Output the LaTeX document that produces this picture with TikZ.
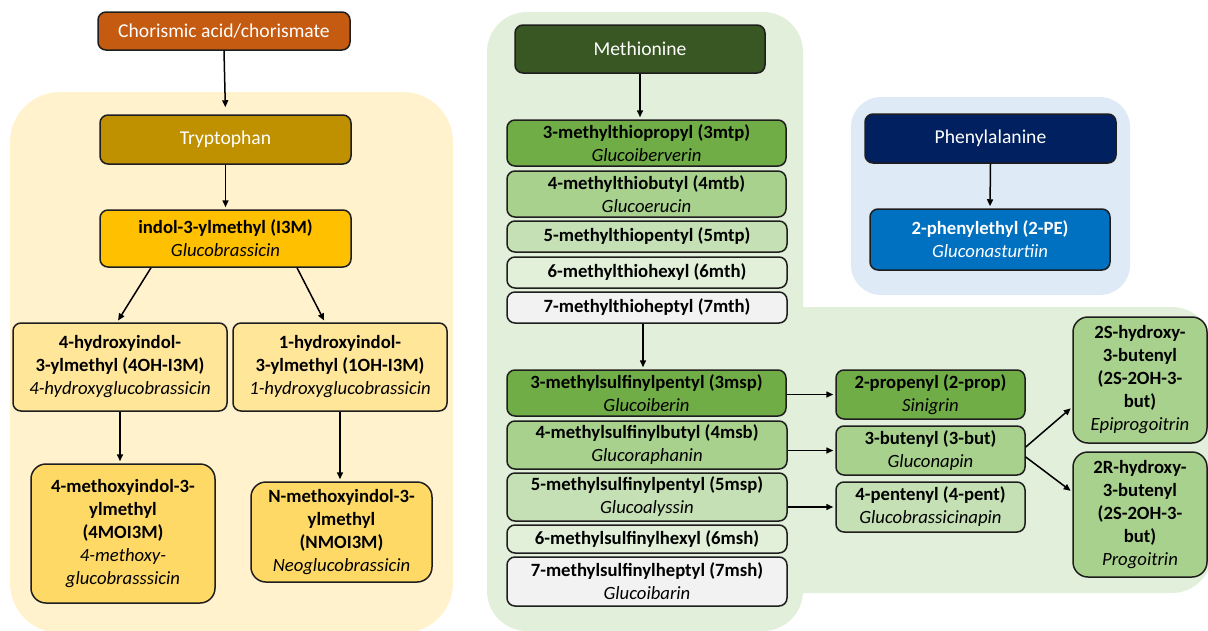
\documentclass[tikz,border=0pt]{standalone}
\usepackage{fontspec}
\setmainfont{Carlito}
\usetikzlibrary{arrows.meta}
\definecolor{cchor}{HTML}{C55A11}
\definecolor{ctrp}{HTML}{BF9000}
\definecolor{ci3m}{HTML}{FFC000}
\definecolor{coh}{HTML}{FFE699}
\definecolor{cmoi}{HTML}{FFD966}
\definecolor{cmet}{HTML}{385723}
\definecolor{gA}{HTML}{70AD47}
\definecolor{gB}{HTML}{A9D18E}
\definecolor{gC}{HTML}{C5E0B4}
\definecolor{gD}{HTML}{E2F0D9}
\definecolor{gE}{HTML}{F2F2F2}
\definecolor{cphe}{HTML}{002060}
\definecolor{cpe}{HTML}{0070C0}
\definecolor{ybg}{HTML}{FFF2CC}
\definecolor{gbg}{HTML}{E2EFDA}
\definecolor{bbg}{HTML}{DEEBF7}
\definecolor{edge}{HTML}{1E1E1E}
\newcommand\bodyfs{\fontsize{18.7}{23}\selectfont}
\newcommand\headfs{\fontsize{19.6}{23}\selectfont}
\tikzset{
  box/.style={draw=edge, line width=1.5pt, rounded corners=8pt, align=center,
    inner sep=1pt, font=\bodyfs},
  bigbox/.style={box, rounded corners=15pt},
  head/.style={box, font=\headfs, text=white},
  arr/.style={-{Triangle[length=7pt,width=6pt]}, line width=1.5pt, shorten >=2pt},
}
\newcommand\bx[6]{\node[#1, fill=#2, minimum width=#4pt, minimum height=#5pt] (#6) at (#3) }
\begin{document}
\begin{tikzpicture}[x=1pt,y=-1pt]
\useasboundingbox (0,0) rectangle (1208,630);
% background panels
\fill[ybg, rounded corners=50pt] (10,92) rectangle (453,633);
\fill[gbg, rounded corners=40pt] (487,12) rectangle (803,631);
\fill[gbg, rounded corners=40pt] (520,307) rectangle (1212,593);
\fill[gbg] (780,307) rectangle (810,400);
\fill[bbg, rounded corners=30pt] (851,97) rectangle (1130,295);

% tryptophan branch
\bx{head}{cchor}{224,31}{252}{38}{chor} {Chorismic acid/chorismate};
\bx{head}{ctrp}{225.5,139.5}{251}{49}{trp} {Tryptophan};
\bx{box}{ci3m}{225.5,238.5}{251}{57}{i3m} {\textbf{indol-3-ylmethyl (I3M)}\\\textit{Glucobrassicin}};
\bx{box}{coh}{120,367}{214}{88}{oh4} {\textbf{4-hydroxyindol-}\\\textbf{3-ylmethyl (4OH-I3M)}\\\textit{4-hydroxyglucobrassicin}};
\bx{box}{coh}{340,367}{214}{88}{oh1} {\textbf{1-hydroxyindol-}\\\textbf{3-ylmethyl (1OH-I3M)}\\\textit{1-hydroxyglucobrassicin}};
\bx{bigbox}{cmoi}{123,533.5}{184}{139}{moi4} {\textbf{4-methoxyindol-3-}\\\textbf{ylmethyl}\\\textbf{(4MOI3M)}\\\textit{4-methoxy-}\\\textit{glucobrasssicin}};
\bx{bigbox}{cmoi}{341.5,532}{181}{100}{nmoi} {\textbf{N-methoxyindol-3-}\\\textbf{ylmethyl}\\\textbf{(NMOI3M)}\\\textit{Neoglucobrassicin}};

\draw[arr, shorten >=7pt] (chor.south) -- (trp.north);
\draw[arr] (trp.south) -- (i3m.north);
\draw[arr] ([xshift=-74.5pt]i3m.south) -- ([xshift=-3pt]oh4.north);
\draw[arr] ([xshift=71.5pt]i3m.south) -- ([xshift=-15pt]oh1.north);
\draw[arr] (oh4.south) -- (oh4.south |- moi4.north);
\draw[arr] (oh1.south) -- (oh1.south |- nmoi.north);

% methionine branch
\bx{head}{cmet}{640,49}{250}{48}{met} {Methionine};
\bx{box}{gA}{646.5,143}{279}{46}{mtp3} {\textbf{3-methylthiopropyl (3mtp)}\\\textit{Glucoiberverin}};
\bx{box}{gB}{646.5,194}{279}{46}{mtb4} {\textbf{4-methylthiobutyl (4mtb)}\\\textit{Glucoerucin}};
\bx{box}{gC}{647,236.5}{280}{31}{mtp5} {\textbf{5-methylthiopentyl (5mtp)}};
\bx{box}{gD}{647,272.5}{280}{31}{mth6} {\textbf{6-methylthiohexyl (6mth)}};
\bx{box}{gE}{647,307.5}{280}{31}{mth7} {\textbf{7-methylthioheptyl (7mth)}};
\bx{box}{gA}{646.5,393}{279}{46}{msp3} {\textbf{3-methylsulfinylpentyl (3msp)}\\\textit{Glucoiberin}};
\bx{box}{gB}{647,445}{280}{48}{msb4} {\textbf{4-methylsulfinylbutyl (4msb)}\\\textit{Glucoraphanin}};
\bx{box}{gC}{647,497}{280}{48}{msp5} {\textbf{5-methylsulfinylpentyl (5msp)}\\\textit{Glucoalyssin}};
\bx{box}{gD}{647,539}{280}{28}{msh6} {\textbf{6-methylsulfinylhexyl (6msh)}};
\bx{box}{gE}{647,581.5}{280}{49}{msh7} {\textbf{7-methylsulfinylheptyl (7msh)}\\\textit{Glucoibarin}};

\bx{box}{gA}{930.5,394.5}{189}{49}{prop2} {\textbf{2-propenyl (2-prop)}\\\textit{Sinigrin}};
\bx{box}{gB}{930.5,450.5}{189}{49}{but3} {\textbf{3-butenyl (3-but)}\\\textit{Gluconapin}};
\bx{box}{gC}{930.5,507}{189}{50}{pent4} {\textbf{4-pentenyl (4-pent)}\\\textit{Glucobrassicinapin}};
\bx{bigbox}{gB}{1140,380}{134}{126}{hs2} {\textbf{2S-hydroxy-}\\\textbf{3-butenyl}\\\textbf{(2S-2OH-3-}\\\textbf{but)}\\\textit{Epiprogoitrin}};
\bx{bigbox}{gB}{1140,514.5}{134}{125}{hr2} {\textbf{2R-hydroxy-}\\\textbf{3-butenyl}\\\textbf{(2S-2OH-3-}\\\textbf{but)}\\\textit{Progoitrin}};

\draw[arr] (met.south) -- (met.south |- mtp3.north);
\draw[arr] ([xshift=-4pt]mth7.south) -- ([xshift=-3.5pt]msp3.north);
\draw[arr] (msp3.east |- prop2.west) -- (prop2.west);
\draw[arr] (msb4.east |- but3.west) -- (but3.west);
\draw[arr] (msp5.east |- pent4.west) -- (pent4.west);
\draw[arr] ([yshift=3.5pt]but3.east) -- ([yshift=-27pt]hs2.west);
\draw[arr] ([yshift=-6.5pt]but3.east) -- ([yshift=22.5pt]hr2.west);

% phenylalanine branch
\bx{head}{cphe}{990.5,138.5}{251}{49}{phe} {Phenylalanine};
\bx{box}{cpe}{990,239.5}{240}{61}{pe} {\color{white}\textbf{2-phenylethyl (2-PE)}\\\color{white}\textit{Gluconasturtiin}};
\draw[arr] (phe.south) -- (pe.north);
\end{tikzpicture}
\end{document}
